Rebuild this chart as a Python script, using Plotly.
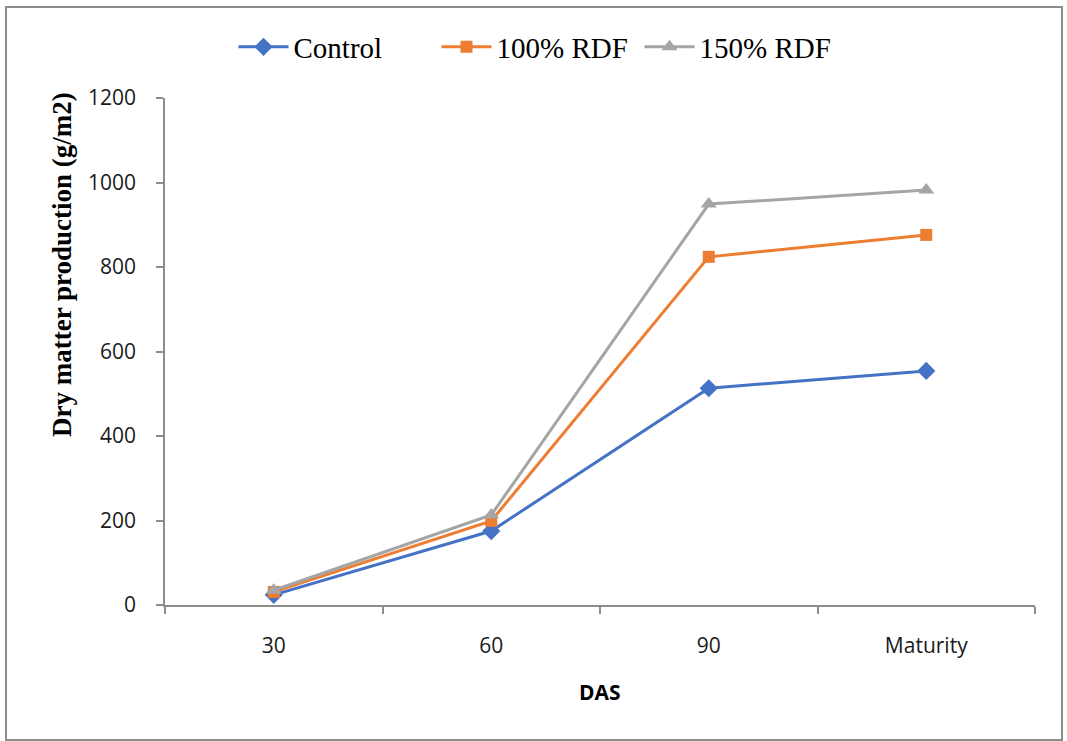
import plotly.graph_objects as go

categories = ["30", "60", "90", "Maturity"]
control = [24, 175, 513, 554]
rdf100 = [31, 199, 824, 876]
rdf150 = [35, 213, 949, 982]
y_ticks = [0, 200, 400, 600, 800, 1000, 1200]

W, H = 1067, 741
L, R, T, B = 165, 1035, 98, 605
pw, ph = R - L, B - T

def px(x):
    return (x - L) / pw

def py(y):
    return (B - y) / ph

fig = go.Figure()
series = [
    ("Control", control, "#4472C4", "diamond", 14),
    ("100% RDF", rdf100, "#ED7D31", "square", 12),
    ("150% RDF", rdf150, "#A5A5A5", "triangle-up", 14),
]
for name, vals, col, sym, sz in series:
    fig.add_trace(go.Scatter(
        x=categories, y=vals, name=name, mode="lines+markers",
        line=dict(color=col, width=3),
        marker=dict(symbol=sym, size=sz, color=col),
    ))

axis_col = "#8C8C8C"
tick_font = dict(family="Open Sans", size=21, color="#1a1a1a")
fig.update_layout(
    width=W, height=H,
    margin=dict(l=L, r=W - R, t=T, b=H - B, autoexpand=False),
    paper_bgcolor="white", plot_bgcolor="white",
    showlegend=True,
    legend=dict(orientation="h", x=px(538), y=py(47), xanchor="center", yanchor="middle",
                font=dict(family="Liberation Serif", size=29, color="black"),
                itemwidth=50, entrywidth=138, entrywidthmode="pixels",
                bgcolor="rgba(0,0,0,0)"),
    xaxis=dict(type="category", range=[-0.5, 3.5], showgrid=False, showline=True,
               linecolor=axis_col, linewidth=1.5, ticks="outside", tickson="boundaries",
               ticklen=7, tickcolor=axis_col, tickwidth=1.5,
               tickfont=tick_font, ticklabelstandoff=21, zeroline=False),
    yaxis=dict(range=[0, 1200], tickvals=y_ticks, showgrid=False, showline=True,
               linecolor=axis_col, linewidth=1.5, ticks="outside", ticklen=7,
               tickcolor=axis_col, tickwidth=1.5,
               tickfont=tick_font, ticklabelstandoff=16, zeroline=False),
    shapes=[dict(type="rect", xref="paper", yref="paper",
                 x0=px(6), x1=px(1062), y0=py(740), y1=py(7),
                 line=dict(color="#8C8C8C", width=2), fillcolor="rgba(0,0,0,0)")],
    annotations=[
        dict(text="<b>Dry matter production (g/m2)</b>", xref="paper", yref="paper",
             x=px(62), y=py(265), textangle=-90, showarrow=False,
             xanchor="center", yanchor="middle",
             font=dict(family="Liberation Serif", size=27, color="black")),
        dict(text="<b>DAS</b>", xref="paper", yref="paper",
             x=px(600), y=py(692), showarrow=False, xanchor="center", yanchor="middle",
             font=dict(family="Open Sans", size=21, color="black")),
    ],
)

fig.write_html("out.html", config={"displayModeBar": False},
               post_script="document.body.style.margin='0';")
